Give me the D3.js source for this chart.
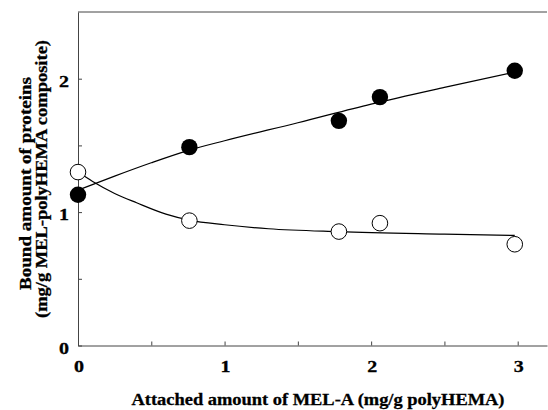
<!DOCTYPE html>
<html>
<head>
<meta charset="utf-8">
<script src="https://cdn.jsdelivr.net/npm/d3@7"></script>
<style>
  body { margin: 0; background: #fff; }
  svg { display: block; }
  text { font-family: "Liberation Serif", "Times New Roman", serif; font-weight: bold; fill: #000; stroke: #000; stroke-width: 0.3px; }
</style>
</head>
<body>
<svg id="chart"></svg>
<script>
// measured points
const xAttached = [0, 0.76, 1.78, 2.06, 2.98];
const boundFilled = [1.13, 1.487, 1.684, 1.862, 2.06];
const boundOpen = [1.30, 0.936, 0.854, 0.917, 0.759];

// fitted curves
const fitFilled = [
  [0, 1.165], [0.25, 1.27], [0.5, 1.37], [0.76, 1.465], [1, 1.535],
  [1.5, 1.67], [2, 1.81], [2.5, 1.935], [2.98, 2.05]
];
const fitOpen = [
  [0, 1.30], [0.1, 1.23], [0.25, 1.14], [0.4, 1.07], [0.6, 0.985],
  [0.76, 0.94], [1, 0.905], [1.3, 0.875], [1.78, 0.853], [2.5, 0.835], [2.98, 0.825]
];

const xTicks = [0, 0.5, 1, 1.5, 2, 2.5, 3];
const yTicks = [0, 0.5, 1, 1.5, 2];

const width = 548, height = 410;
const margin = { top: 12, left: 78 };

const svg = d3.select('#chart')
  .attr('width', width)
  .attr('height', height);

const x = d3.scaleLinear().domain([0, 3.2]).range([margin.left, margin.left + 469]);
const y = d3.scaleLinear().domain([0, 2.5]).range([345.5, margin.top]);

// top line of the frame
svg.append('line')
  .attr('x1', x(0)).attr('x2', x(3.2))
  .attr('y1', y(2.5)).attr('y2', y(2.5))
  .attr('stroke', '#444').attr('stroke-width', 1);

const xAxis = svg.append('g')
  .attr('transform', `translate(0,${y(0)})`)
  .call(d3.axisBottom(x).tickValues(xTicks).tickSizeInner(-4).tickSizeOuter(0).tickFormat(''));
xAxis.select('.domain').attr('stroke', '#444');
xAxis.selectAll('.tick line').attr('stroke', '#444');

const yAxis = svg.append('g')
  .attr('transform', `translate(${x(0)},0)`)
  .call(d3.axisLeft(y).tickValues(yTicks).tickSizeInner(-4).tickSizeOuter(0).tickFormat(''));
yAxis.select('.domain').attr('stroke', '#444');
yAxis.selectAll('.tick line').attr('stroke', '#444');

// tick labels (the original type is a wide Times, so glyphs get stretched)
svg.selectAll('.xlab')
  .data(xTicks.filter(d => Number.isInteger(d)))
  .join('text')
  .attr('class', 'xlab')
  .attr('x', d => x(d) + 1)
  .attr('y', 372)
  .attr('text-anchor', 'middle')
  .attr('textLength', 10)
  .attr('lengthAdjust', 'spacingAndGlyphs')
  .style('font-size', '17px')
  .text(d => d);

svg.selectAll('.ylab')
  .data(yTicks.filter(d => Number.isInteger(d)))
  .join('text')
  .attr('class', 'ylab')
  .attr('x', 69)
  .attr('y', d => y(d) + 8)
  .attr('text-anchor', 'end')
  .attr('textLength', 10)
  .attr('lengthAdjust', 'spacingAndGlyphs')
  .style('font-size', '16.5px')
  .text(d => d);

// axis titles
svg.append('text')
  .attr('x', 318)
  .attr('y', 405)
  .attr('text-anchor', 'middle')
  .attr('textLength', 373)
  .attr('lengthAdjust', 'spacingAndGlyphs')
  .style('font-size', '16.8px')
  .text('Attached amount of MEL-A (mg/g polyHEMA)');

const yTitle = svg.append('g')
  .attr('transform', 'translate(0,181) rotate(-90)');
yTitle.append('text')
  .attr('x', -2.5).attr('y', 31)
  .attr('text-anchor', 'middle')
  .attr('textLength', 213)
  .attr('lengthAdjust', 'spacingAndGlyphs')
  .style('font-size', '16.8px')
  .text('Bound amount of proteins');
yTitle.append('text')
  .attr('x', 2).attr('y', 47)
  .attr('text-anchor', 'middle')
  .attr('textLength', 278)
  .attr('lengthAdjust', 'spacingAndGlyphs')
  .style('font-size', '16.8px')
  .text('(mg/g MEL-polyHEMA composite)');

// fitted lines
const line = d3.line()
  .x(d => x(d[0]))
  .y(d => y(d[1]))
  .curve(d3.curveMonotoneX);

svg.append('path')
  .datum(fitFilled)
  .attr('d', line)
  .attr('fill', 'none')
  .attr('stroke', '#000')
  .attr('stroke-width', 1.2);

svg.append('path')
  .datum(fitOpen)
  .attr('d', line)
  .attr('fill', 'none')
  .attr('stroke', '#000')
  .attr('stroke-width', 1.2);

// markers
svg.selectAll('.open')
  .data(xAttached.map((d, i) => [d, boundOpen[i]]))
  .join('circle')
  .attr('class', 'open')
  .attr('cx', d => x(d[0]))
  .attr('cy', d => y(d[1]))
  .attr('r', 7.8)
  .attr('fill', '#fff')
  .attr('stroke', '#000')
  .attr('stroke-width', 1);

svg.selectAll('.filled')
  .data(xAttached.map((d, i) => [d, boundFilled[i]]))
  .join('circle')
  .attr('class', 'filled')
  .attr('cx', d => x(d[0]))
  .attr('cy', d => y(d[1]))
  .attr('r', 8.2)
  .attr('fill', '#000');
</script>
</body>
</html>
